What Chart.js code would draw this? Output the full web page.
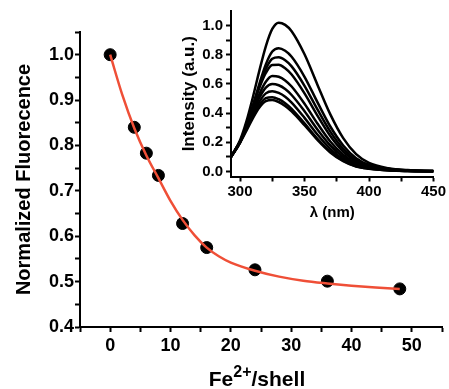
<!DOCTYPE html>
<html>
<head>
<meta charset="utf-8">
<script src="https://cdn.jsdelivr.net/npm/chart.js@4.4.0/dist/chart.umd.min.js"></script>
<style>
  html, body { margin: 0; padding: 0; background: #fff; }
  #wrap { position: relative; width: 449px; height: 389px; overflow: hidden; }
  #main { position: absolute; left: 0; top: 0; }
  #inset { position: absolute; left: 170px; top: 0; }
  #xTitle {
    position: absolute; left: 157px; top: 368px; width: 200px;
    text-align: center; color: #000;
    font: bold 21px/21px 'Liberation Sans', Arial, sans-serif;
  }
  #xTitle span { font-size: 16px; position: relative; top: -9px; }
</style>
</head>
<body>
<div id="wrap">
  <canvas id="main" width="449" height="389"></canvas>
  <canvas id="inset" width="279" height="230"></canvas>
  <div id="xTitle">Fe<span>2+</span>/shell</div>
</div>
<script>
// main plot: quenching vs Fe2+ per shell
const feShell = [0, 4, 6, 8, 12, 16, 24, 36, 48];
const normFluor = [1.0, 0.84, 0.783, 0.734, 0.628, 0.575, 0.526, 0.501, 0.484];

// red fitted curve
const fitX = [0, 2, 4, 6, 8, 10, 12, 14, 16, 18, 20, 24, 28, 32, 36, 40, 44, 48];
const fitY = [1.0, 0.912, 0.838, 0.778, 0.728, 0.678, 0.636, 0.602, 0.575, 0.556, 0.542, 0.524, 0.511, 0.502, 0.496, 0.491, 0.487, 0.484];

const mainXTicks = [-5, 0, 5, 10, 15, 20, 25, 30, 35, 40, 45, 50, 55];
const mainXLabels = [0, 10, 20, 30, 40, 50];
const mainYTicks = [0.4, 0.45, 0.5, 0.55, 0.6, 0.65, 0.7, 0.75, 0.8, 0.85, 0.9, 0.95, 1.0, 1.05];
const mainYLabels = [0.4, 0.5, 0.6, 0.7, 0.8, 0.9, 1.0];

// inset: emission spectra
const wavelength = [293, 300, 305, 310, 315, 320, 325, 330, 335, 340, 350, 360, 370, 380, 390, 400, 415, 430, 450];
const spec1 = [0.10, 0.214, 0.345, 0.510, 0.691, 0.858, 0.977, 1.020, 1.005, 0.961, 0.803, 0.595, 0.391, 0.228, 0.118, 0.058, 0.022, 0.009, 0.003];
const spec2 = [0.10, 0.197, 0.311, 0.452, 0.601, 0.734, 0.822, 0.845, 0.827, 0.786, 0.649, 0.475, 0.308, 0.178, 0.091, 0.045, 0.018, 0.007, 0.002];
const spec3 = [0.10, 0.200, 0.314, 0.448, 0.586, 0.703, 0.773, 0.783, 0.762, 0.720, 0.587, 0.425, 0.273, 0.155, 0.078, 0.039, 0.015, 0.006, 0.002];
const spec4 = [0.10, 0.204, 0.318, 0.445, 0.573, 0.675, 0.730, 0.731, 0.707, 0.664, 0.535, 0.383, 0.243, 0.136, 0.068, 0.034, 0.013, 0.005, 0.002];
const spec5 = [0.10, 0.203, 0.305, 0.420, 0.531, 0.615, 0.654, 0.649, 0.624, 0.582, 0.464, 0.328, 0.205, 0.114, 0.056, 0.029, 0.011, 0.004, 0.001];
const spec6 = [0.10, 0.203, 0.300, 0.406, 0.505, 0.575, 0.600, 0.591, 0.565, 0.524, 0.413, 0.288, 0.178, 0.098, 0.048, 0.025, 0.009, 0.004, 0.001];
const spec7 = [0.10, 0.203, 0.294, 0.391, 0.478, 0.535, 0.550, 0.538, 0.512, 0.472, 0.367, 0.253, 0.155, 0.084, 0.040, 0.021, 0.008, 0.003, 0.001];
const spec8 = [0.10, 0.204, 0.291, 0.381, 0.456, 0.502, 0.509, 0.495, 0.468, 0.429, 0.329, 0.224, 0.136, 0.073, 0.035, 0.019, 0.007, 0.003, 0.001];
const spec9 = [0.10, 0.196, 0.279, 0.366, 0.439, 0.482, 0.489, 0.476, 0.449, 0.412, 0.317, 0.216, 0.130, 0.070, 0.033, 0.018, 0.007, 0.003, 0.001];
const spectra = [spec1, spec2, spec3, spec4, spec5, spec6, spec7, spec8, spec9];

const insetXTicks = [300, 325, 350, 375, 400, 425, 450];
const insetXLabels = [300, 350, 400, 450];
const insetYTicks = [0.0, 0.1, 0.2, 0.3, 0.4, 0.5, 0.6, 0.7, 0.8, 0.9, 1.0];
const insetYLabels = [0.0, 0.2, 0.4, 0.6, 0.8, 1.0];

const FONT = "'Liberation Sans', Arial, sans-serif";
const RED = '#ef4f37';

function axisStyle(tickVals, labelVals, fmt, fontSize, pad) {
    return {
        type: 'linear',
        afterBuildTicks: s => { s.ticks = tickVals.map(v => ({ value: v })); },
        ticks: {
            autoSkip: false,
            maxRotation: 0,
            padding: pad,
            color: '#000',
            font: { family: FONT, size: fontSize, weight: 'bold' },
            callback: v => labelVals.includes(v) ? fmt(v) : ''
        },
        grid: { drawOnChartArea: false, tickLength: 5, tickWidth: 2, tickColor: '#000' },
        border: { color: '#000', width: 2 }
    };
}

// main chart
const mx = axisStyle(mainXTicks, mainXLabels, v => String(v), 18, 3);
mx.min = -5; mx.max = 55;
mx.afterFit = s => { s.height = 62; s.paddingLeft = 0; s.paddingRight = 0; };
const my = axisStyle(mainYTicks, mainYLabels, v => v.toFixed(1), 18, 1);
my.min = 0.4; my.max = 1.05;
my.afterFit = s => { s.width = 80; s.paddingTop = 0; s.paddingBottom = 0; };
my.title = { display: true, text: 'Normalized Fluorecence', color: '#000', padding: 12, font: { family: FONT, size: 20, weight: 'bold' } };

new Chart(document.getElementById('main'), {
    type: 'scatter',
    data: {
        datasets: [{
            type: 'line',
            data: fitX.map((x, i) => ({ x: x, y: fitY[i] })),
            borderColor: RED,
            borderWidth: 2.5,
            pointRadius: 0,
            cubicInterpolationMode: 'monotone',
            order: 1
        }, {
            data: feShell.map((x, i) => ({ x: x, y: normFluor[i] })),
            backgroundColor: '#000',
            borderColor: '#000',
            pointRadius: 6,
            order: 2
        }]
    },
    options: {
        responsive: false,
        animation: false,
        clip: false,
        layout: { padding: { top: 32, right: 6, left: 0, bottom: 0 } },
        plugins: { legend: { display: false }, tooltip: { enabled: false } },
        scales: { x: mx, y: my }
    }
});

// inset chart
const ix = axisStyle(insetXTicks, insetXLabels, v => String(v), 15, 1);
ix.min = 293; ix.max = 450;
ix.afterFit = s => { s.height = 53.5; s.paddingLeft = 0; s.paddingRight = 0; };
ix.title = { display: true, text: 'λ (nm)', color: '#000', padding: 8, font: { family: FONT, size: 15, weight: 'bold' } };
const iy = axisStyle(insetYTicks, insetYLabels, v => v.toFixed(1), 15, 3);
iy.min = -0.035; iy.max = 1.1;
iy.afterFit = s => { s.width = 61; s.paddingTop = 0; s.paddingBottom = 0; };
iy.title = { display: true, text: 'Intensity (a.u.)', color: '#000', padding: 9, font: { family: FONT, size: 17, weight: 'bold' } };

new Chart(document.getElementById('inset'), {
    type: 'line',
    data: {
        datasets: spectra.map(s => ({
            data: wavelength.map((w, i) => ({ x: w, y: s[i] })),
            borderColor: '#000',
            borderWidth: 2.5,
            pointRadius: 0,
            cubicInterpolationMode: 'monotone'
        }))
    },
    options: {
        responsive: false,
        animation: false,
        layout: { padding: { top: 11, right: 15.5, left: 0, bottom: 0 } },
        plugins: { legend: { display: false }, tooltip: { enabled: false } },
        scales: { x: ix, y: iy }
    }
});
</script>
</body>
</html>
